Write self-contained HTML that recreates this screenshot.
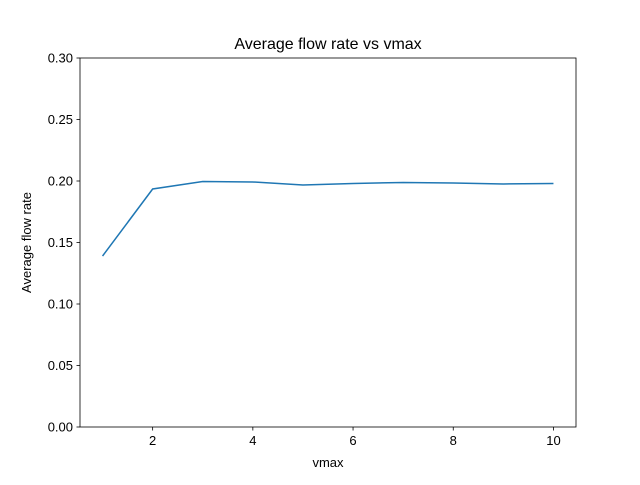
<!DOCTYPE html>
<html><head><meta charset="utf-8"><style>
body{margin:0;background:#fff;}
svg text{font-family:"Liberation Sans","DejaVu Sans",sans-serif;fill:#000;}
</style></head><body>
<svg id="chart" width="640" height="480">
<rect width="640" height="480" fill="#fff"/>
<text x="328" y="49" font-size="16" text-anchor="middle">Average flow rate vs vmax</text>
<g id="axes"></g>
<text x="328" y="467" font-size="13" text-anchor="middle">vmax</text>
<text transform="translate(31,242.5) rotate(-90)" font-size="13" text-anchor="middle">Average flow rate</text>
</svg>
<script>
const xValues=[1,2,3,4,5,6,7,8,9,10];
const yValues=[0.139,0.1935,0.1996,0.1992,0.1967,0.198,0.1988,0.1984,0.1976,0.198];
const xTicks=[2,4,6,8,10];
const yTicks=[0,0.05,0.1,0.15,0.2,0.25,0.3];
const L=80,R=576,T=58,B=427,xmin=0.55,xmax=10.45,ymin=0,ymax=0.3;
const sx=v=>L+(v-xmin)/(xmax-xmin)*(R-L);
const sy=v=>B-(v-ymin)/(ymax-ymin)*(B-T);
const NS='http://www.w3.org/2000/svg';
const g=document.getElementById('axes');
function mk(t,a){const e=document.createElementNS(NS,t);for(const k in a)e.setAttribute(k,a[k]);g.appendChild(e);return e;}
const frame=mk('rect',{x:L,y:T,width:R-L,height:B-T,fill:'none',stroke:'#000','stroke-width':0.8});


xTicks.forEach(v=>{const x=sx(v);
const t=mk('line',{x1:x,x2:x,y1:B,y2:B+3.5,stroke:'#000','stroke-width':0.8});


const l=mk('text',{x:x,y:B+18,'font-size':13,'text-anchor':'middle'});l.textContent=v;

});
yTicks.forEach(v=>{const y=sy(v);
const t=mk('line',{x1:L-3.5,x2:L,y1:y,y2:y,stroke:'#000','stroke-width':0.8});


const l=mk('text',{x:L-7,y:y+4.5,'font-size':13,'text-anchor':'end'});l.textContent=v.toFixed(2);

});
const p=mk('polyline',{points:xValues.map((v,i)=>sx(v)+','+sy(yValues[i])).join(' '),fill:'none',stroke:'#1f77b4','stroke-width':1.5});


</script>
</body></html>
